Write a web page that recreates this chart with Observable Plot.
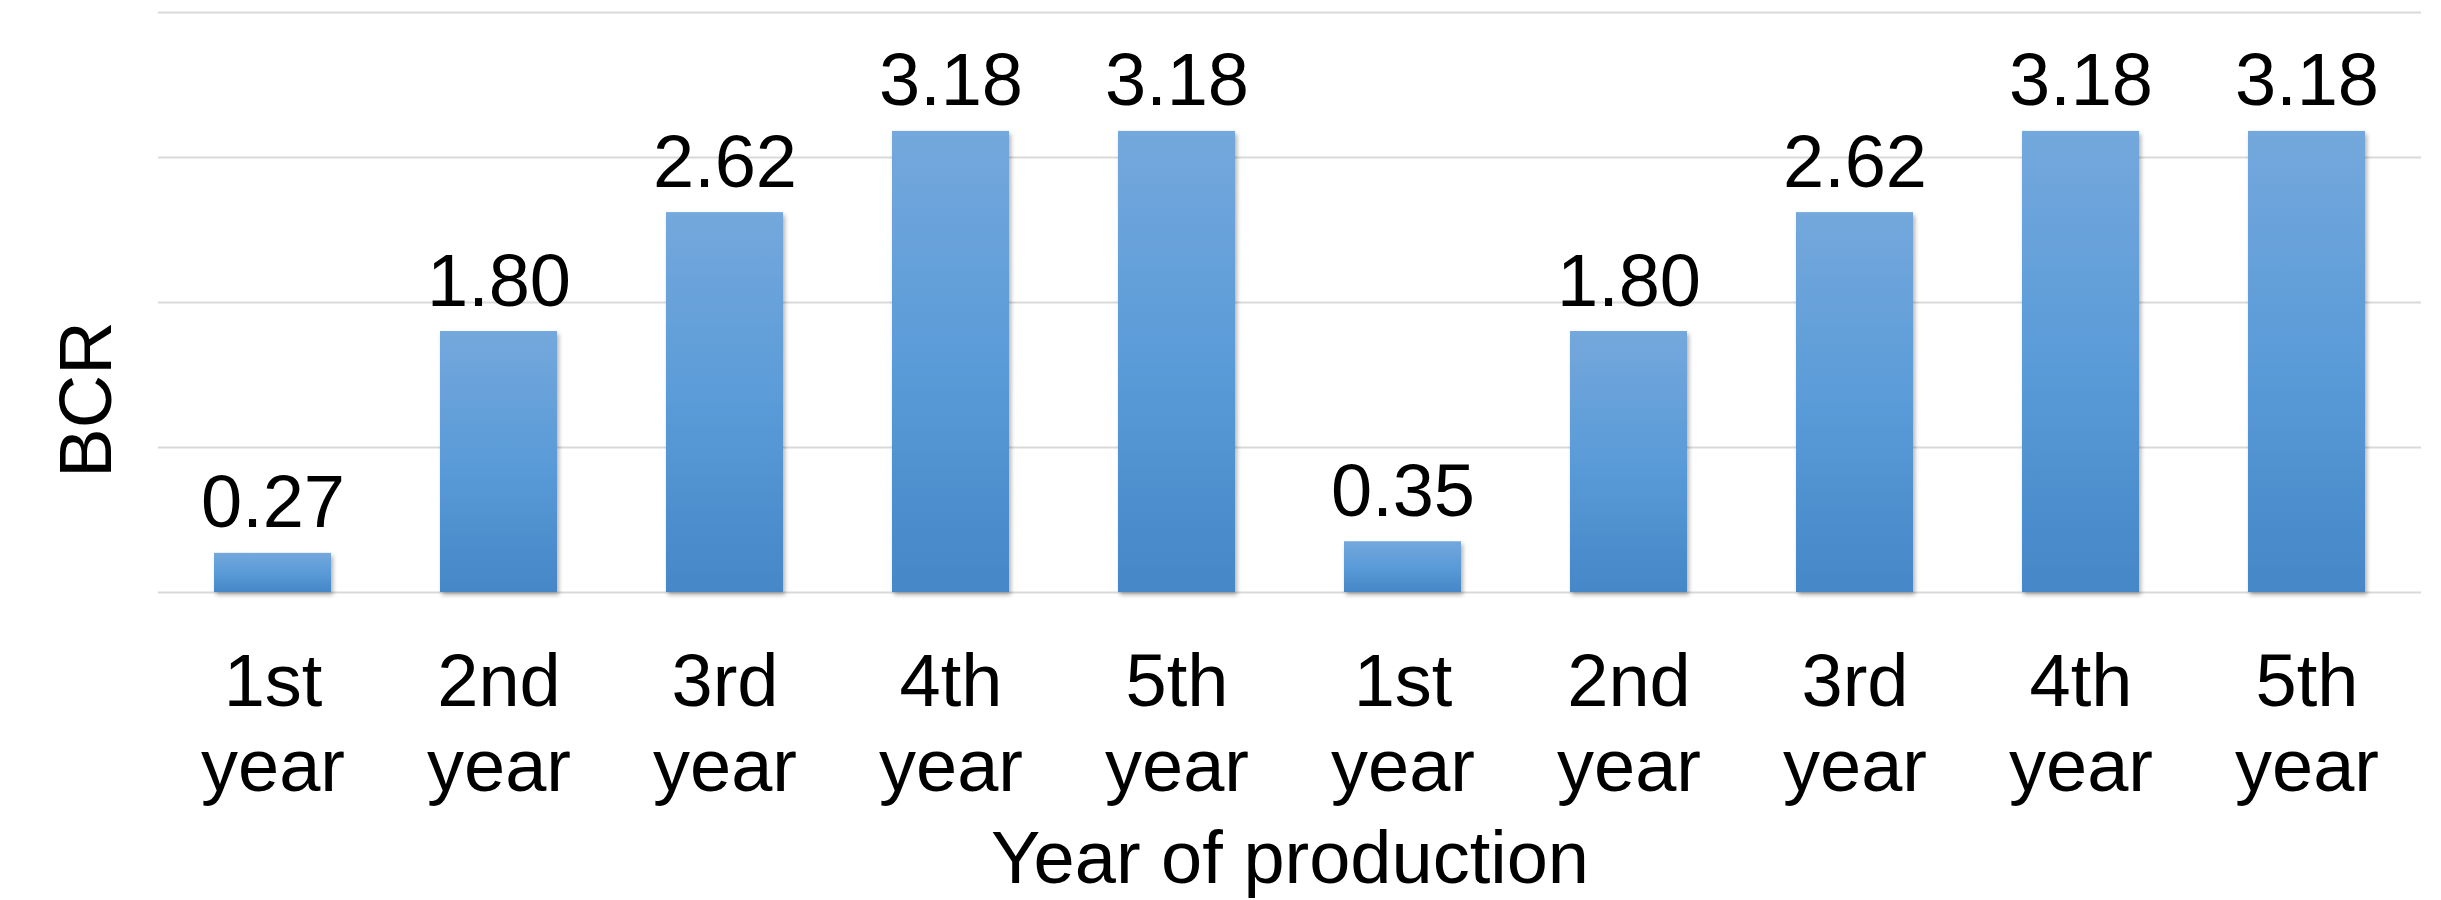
<!DOCTYPE html>
<html>
<head>
<meta charset="utf-8">
<script src="https://cdn.jsdelivr.net/npm/d3@7"></script>
<script src="https://cdn.jsdelivr.net/npm/@observablehq/plot@0.6"></script>
<style>
  html, body { margin: 0; padding: 0; background: #ffffff; }
  #chart svg { display: block; }
</style>
</head>
<body>
<div id="chart"></div>
<script>
// ---- data ----
const yearLabels = ["1st year", "2nd year", "3rd year", "4th year", "5th year",
                    "1st year", "2nd year", "3rd year", "4th year", "5th year"];
const bcrValues = [0.27, 1.80, 2.62, 3.18, 3.18, 0.35, 1.80, 2.62, 3.18, 3.18];
const yTicks = [0, 1, 2, 3, 4];
const xTitle = "Year of production";
const yTitle = "BCR";

const data = bcrValues.map((v, i) => ({key: i, label: yearLabels[i], value: v}));
const font = "'Liberation Sans', Arial, Helvetica, sans-serif";
const FS = 74;

const chart = Plot.plot({
  width: 2441,
  height: 900,
  marginLeft: 158,
  marginRight: 20,
  marginTop: 12,
  marginBottom: 308,
  style: {fontFamily: font, background: "#ffffff", color: "#000000"},
  x: {type: "band", domain: data.map(d => d.key), paddingInner: 0.483, paddingOuter: 0.2415},
  y: {domain: [0, 4], axis: null},
  marks: [
    Plot.gridY(yTicks, {stroke: "#d9d9d9", strokeOpacity: 1, strokeWidth: 2}),
    Plot.barY(data, {x: "key", y: "value", fill: "url(#barGrad)"}),
    Plot.text(data, {
      x: "key", y: "value", text: d => d.value.toFixed(2),
      lineAnchor: "bottom", dy: -26, fontSize: FS, fill: "#000000"
    }),
    Plot.axisX({
      tickSize: 0, tickPadding: 53, fontSize: FS, lineHeight: 1.15,
      tickFormat: i => yearLabels[i].replace(" ", "\n"),
      label: null, fill: "#000000"
    }),
    Plot.text([yTitle], {
      frameAnchor: "left", rotate: -90, dx: -48, dy: 97,
      lineAnchor: "bottom", textAnchor: "middle", fontSize: FS, fill: "#000000"
    }),
    Plot.text([xTitle], {
      frameAnchor: "bottom", dy: 290, lineAnchor: "bottom",
      textAnchor: "middle", fontSize: FS, fill: "#000000"
    })
  ]
});

// gradient + subtle shadow for bars
const svg = d3.select(chart);
const defs = svg.insert("defs", ":first-child");
const grad = defs.append("linearGradient").attr("id", "barGrad")
  .attr("x1", 0).attr("y1", 0).attr("x2", 0).attr("y2", 1);
grad.append("stop").attr("offset", "0%").attr("stop-color", "#74a8dc");
grad.append("stop").attr("offset", "50%").attr("stop-color", "#5a9bd8");
grad.append("stop").attr("offset", "100%").attr("stop-color", "#4587c7");
const f = defs.append("filter").attr("id", "barShadow")
  .attr("x", "-10%").attr("y", "-10%").attr("width", "130%").attr("height", "130%");
f.append("feDropShadow").attr("dx", 2).attr("dy", 3).attr("stdDeviation", 2)
  .attr("flood-color", "#000").attr("flood-opacity", 0.3);
svg.selectAll('g[aria-label="bar"]').attr("filter", "url(#barShadow)");

document.getElementById("chart").appendChild(chart);
</script>
</body>
</html>
